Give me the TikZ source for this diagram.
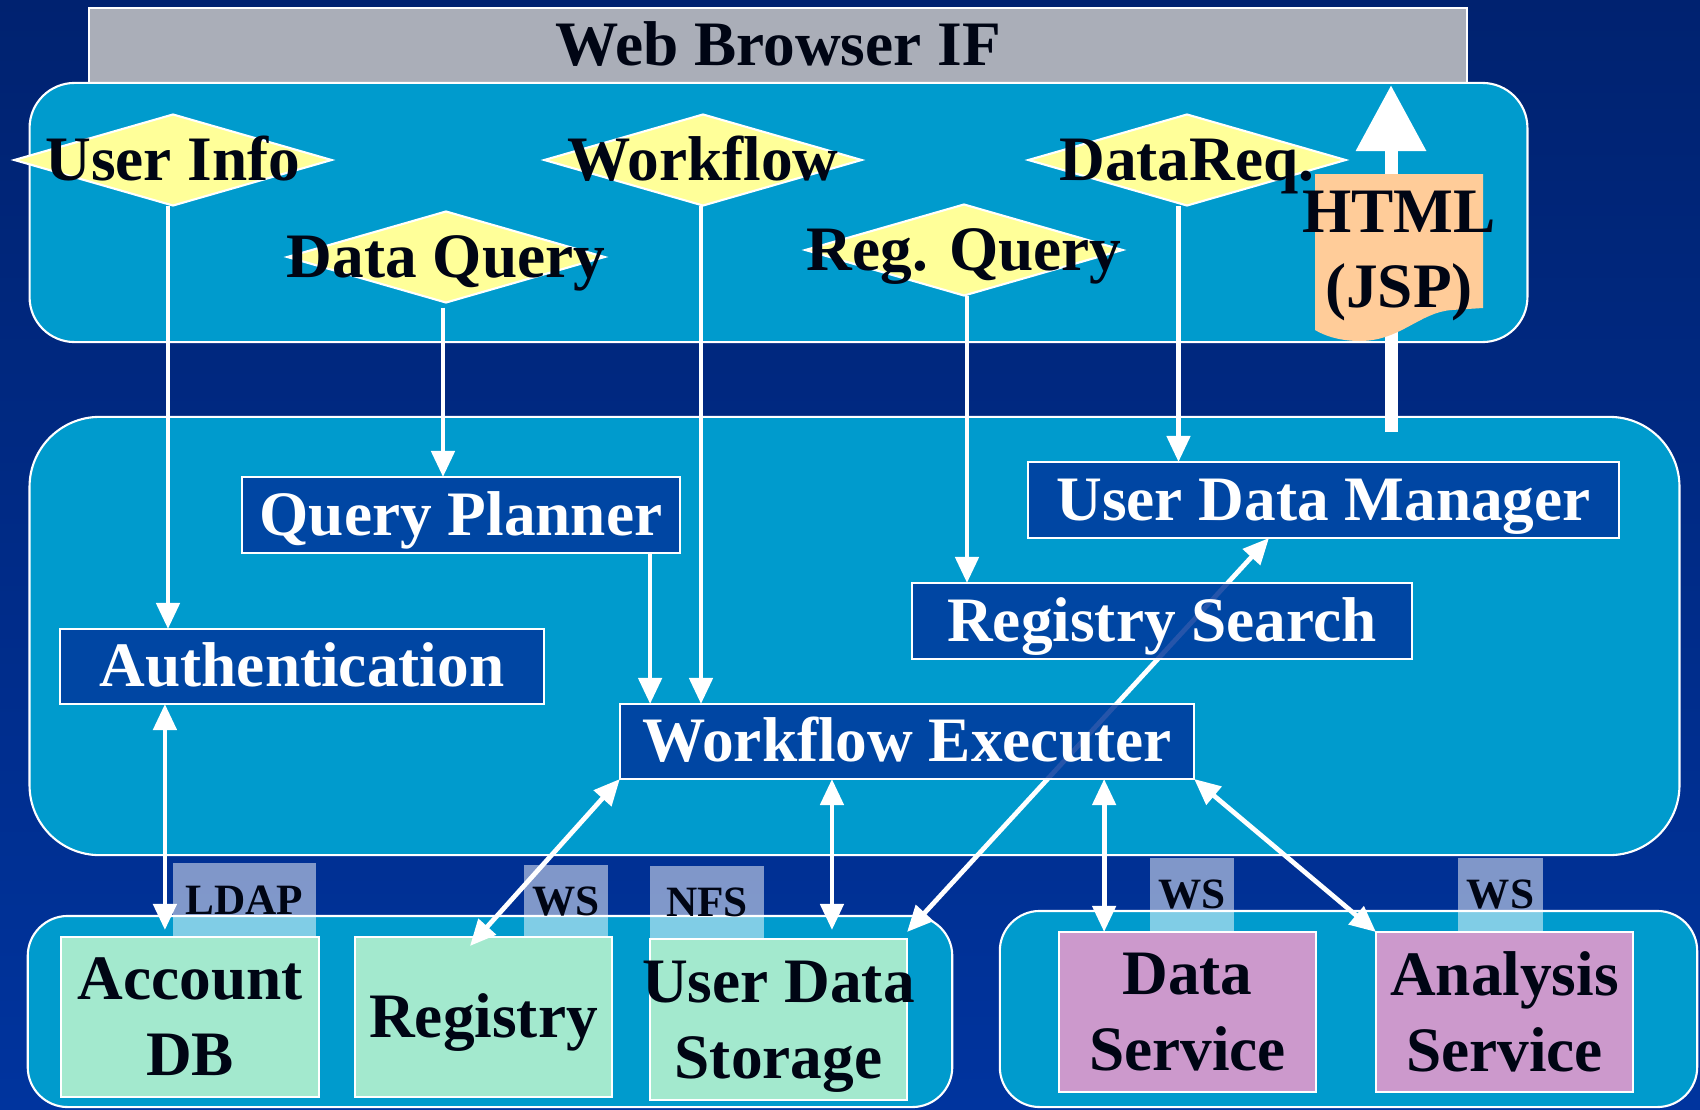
\documentclass[tikz,border=0pt]{standalone}
\usepackage{fontspec}
\setmainfont{Liberation Serif}
\usetikzlibrary{arrows.meta,calc,shapes.geometric}
\pgfdeclarelayer{bg}
\pgfdeclarelayer{mid}
\pgfsetlayers{bg,mid,main}
\definecolor{bgtop}{RGB}{0,34,112}
\definecolor{bgbot}{RGB}{0,52,158}
\definecolor{cpanel}{RGB}{0,155,205}
\definecolor{boxblue}{RGB}{0,56,156}
\definecolor{wbgray}{RGB}{170,174,184}
\definecolor{dyellow}{RGB}{255,255,153}
\definecolor{mint}{RGB}{163,233,206}
\definecolor{lilac}{RGB}{204,153,204}
\definecolor{peach}{RGB}{255,204,153}
\definecolor{ink}{RGB}{0,5,20}
\begin{document}
\begin{tikzpicture}[x=0.01cm,y=-0.01cm,
  big/.style={font=\fontsize{18}{21.6}\selectfont\bfseries},
  capmid/.style={text height=12.6pt,text depth=1.2pt},
  panelbox/.style={draw=white,line width=0.6pt,fill=cpanel,inner sep=0pt,outer sep=0pt},
  wbbox/.style={draw=white,line width=0.6pt,fill=wbgray,inner sep=0pt,outer sep=0pt,big,capmid,text=ink,
    minimum width=137.8mm,minimum height=7.5mm},
  ydiam/.style={diamond,fill=dyellow,draw=white,line width=0.6pt,inner sep=0pt,outer sep=0pt,
    minimum width=31.7mm,minimum height=9.1mm},
  dtext/.style={big,capmid,text=ink,inner sep=0pt},
  proc/.style={draw=white,line width=0.6pt,fill=boxblue,fill opacity=0.85,text opacity=1,text=white,
    inner sep=0pt,outer sep=0pt,big,capmid},
  store/.style={draw=white,line width=0.6pt,fill=mint,text=ink,inner sep=0pt,outer sep=0pt,big,align=center,
    minimum width=25.8mm,minimum height=16mm},
  svc/.style={draw=white,line width=0.6pt,fill=lilac,text=ink,inner sep=0pt,outer sep=0pt,big,align=center,
    minimum width=25.7mm,minimum height=16mm},
  proto/.style={fill=white,fill opacity=0.5,text opacity=1,text=ink,inner sep=0pt,outer sep=0pt,
    font=\fontsize{12.3}{14}\selectfont\bfseries,text height=8.6pt,text depth=0.5pt},
  arr/.style={draw=white,line width=1.35pt,-{Triangle[length=2.6mm,width=2.3mm]}},
  darr/.style={draw=white,line width=1.35pt,{Triangle[length=2.6mm,width=2.3mm]}-{Triangle[length=2.6mm,width=2.3mm]}}
]
\useasboundingbox (0,0) rectangle (1700,1109);
\begin{pgfonlayer}{bg}
\shade[top color=bgtop,bottom color=bgbot] (0,0) rectangle (1700,1109);
\node[wbbox] (wb) at (778,45.5) {Web Browser IF};
\node[panelbox,minimum width=149.7mm,minimum height=25.9mm,rounded corners=4.5mm] (tp) at (778.5,212.5) {};
\node[panelbox,minimum width=164.9mm,minimum height=43.8mm,rounded corners=7mm] (mp) at (854.5,636) {};
\node[panelbox,minimum width=92.4mm,minimum height=19.1mm,rounded corners=4mm] (blp) at (490,1011.5) {};
\node[panelbox,minimum width=69.7mm,minimum height=19.6mm,rounded corners=4mm] (brp) at (1348.5,1009) {};
\end{pgfonlayer}

% diamonds
\node[ydiam] (ui) at (173,160) {};
\node[dtext] (uit) at (ui) {User Info};
\node[ydiam] (dq) at (446,257) {};
\node[dtext] (dqt) at (dq) {Data Query};
\node[ydiam] (wf) at (703,160) {};
\node[dtext] (wft) at (wf) {Workflow};
\node[ydiam] (rq) at (964,250) {};
\node[dtext] (rqt) at (rq) {Reg. Query};
\node[ydiam] (dr) at (1187,160) {};
\node[dtext] (drt) at (dr) {DataReq.};

% big arrow and HTML document
\coordinate (hb) at (1391,432);
\coordinate (ht) at (1391,85);
\draw[white,line width=1.3mm,-{Triangle[length=6.6mm,width=6.7mm]}] (hb) -- (ht);
\fill[peach] (1315,174) -- (1483,174) -- (1483,308) -- (1452,310)
  .. controls (1420,312) and (1400,341) .. (1360,341)
  .. controls (1340,341) and (1325,336) .. (1315,330) -- cycle;
\node[big,align=center,inner sep=0pt,text=ink] (html) at (1399,256) {HTML\\(JSP)};

% protocol labels
\node[proto,minimum width=14.3mm,minimum height=7.4mm] (ldap) at (244.5,900) {LDAP};
\node[proto,minimum width=8.4mm,minimum height=7.3mm] (ws1) at (566,901.5) {WS};
\node[proto,minimum width=11.4mm,minimum height=7.3mm] (nfs) at (707,902.5) {NFS};
\node[proto,minimum width=8.4mm,minimum height=7.3mm] (ws2) at (1192,894.5) {WS};
\node[proto,minimum width=8.5mm,minimum height=7.3mm] (ws3) at (1500.5,894.5) {WS};

% process boxes
\node[proc,minimum width=43.8mm,minimum height=7.6mm] (qp) at (461,515) {Query Planner};
\node[proc,minimum width=48.4mm,minimum height=7.5mm] (auth) at (302,666.5) {Authentication};
\node[proc,minimum width=57.4mm,minimum height=7.5mm] (we) at (907,741.5) {Workflow Executer};
\node[proc,minimum width=50mm,minimum height=7.6mm] (rs) at (1162,621) {Registry Search};
\node[proc,minimum width=59.1mm,minimum height=7.6mm] (udm) at (1323.5,500) {User Data Manager};

% storage and services
\node[store] (adb) at (190,1017) {Account\\DB};
\node[store,minimum width=25.7mm,capmid] (reg) at (483.5,1017) {Registry};
\node[store,minimum width=25.7mm,minimum height=16.1mm,text depth=0pt] (uds) at (778.5,1019.5)
  {\makebox[0pt]{User Data}\\\makebox[0pt]{Storage}};
\node[svc] (ds) at (1187.5,1012) {Data\\Service};
\node[svc] (as) at (1504.5,1012) {Analysis\\Service};

% connectors
\draw[arr] ([xshift=-0.5mm]ui.south) -- ([xshift=-0.5mm]ui.south |- auth.north);
\draw[arr] ([xshift=-0.3mm,yshift=-0.5mm]dq.south) -- ([xshift=-0.3mm]dq.south |- qp.north);
\draw[arr] ([xshift=-0.2mm]wf.south) -- ([xshift=-0.2mm]wf.south |- we.north);
\draw[arr] ([xshift=-3mm]qp.south east) -- ([xshift=-3mm]qp.south east |- we.north);
\draw[arr] ([xshift=0.3mm]rq.south) -- ([xshift=0.3mm]rq.south |- rs.north);
\draw[arr] ([xshift=-0.85mm]dr.south) -- ([xshift=-0.85mm]dr.south |- udm.north);
\draw[darr,shorten >=0.7mm] ([xshift=-13.7mm]auth.south) -- ([xshift=-13.7mm]auth.south |- adb.north);
\draw[darr] (we.south west) -- ([xshift=11.5mm,yshift=-0.9mm]reg.north west);
\draw[darr,shorten >=0.9mm] ([xshift=21.2mm]we.south west) -- ([xshift=21.2mm]we.south west |- uds.north);
\draw[darr] ([xshift=48.4mm]we.south west) -- ([xshift=48.4mm]we.south west |- ds.north);
\draw[darr] (we.south east) -- (as.north west);
\begin{pgfonlayer}{mid}
\draw[darr] ([xshift=24.1mm]udm.south west) -- ([yshift=0.7mm]uds.north east);
\end{pgfonlayer}
\end{tikzpicture}
\end{document}
